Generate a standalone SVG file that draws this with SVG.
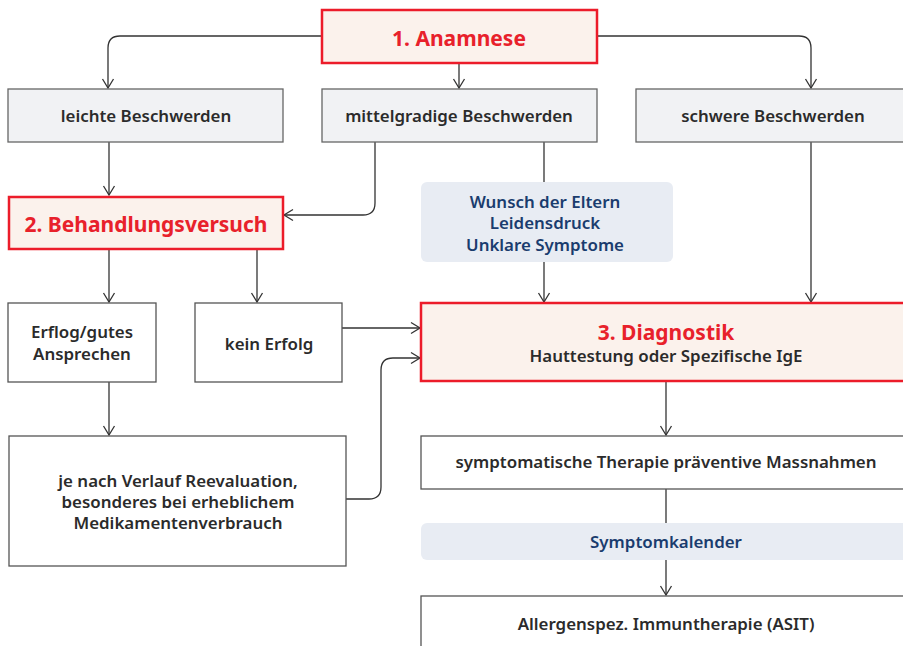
<svg xmlns="http://www.w3.org/2000/svg" width="903" height="646" viewBox="0 0 903 646">
<defs>
<marker id="arr" markerUnits="userSpaceOnUse" markerWidth="14" markerHeight="14" refX="10" refY="7" orient="auto">
<path d="M1,1.5 L10,7 L1,12.5" fill="none" stroke="#333" stroke-width="1.3"/>
</marker>
<style>
.t{font-family:"Noto Sans","Open Sans","Liberation Sans",sans-serif;font-weight:600;font-size:16.9px;fill:#2b2b2b;text-anchor:middle}
.h{font-family:"Noto Sans","Open Sans","Liberation Sans",sans-serif;font-weight:700;font-size:21px;fill:#e8212b;text-anchor:middle}
.b{font-family:"Noto Sans","Open Sans","Liberation Sans",sans-serif;font-weight:600;font-size:16.9px;fill:#1a3c6e;text-anchor:middle}
.red{fill:#fbf2ec;stroke:#ec1c2a;stroke-width:2.5}
.gray{fill:#f1f2f4;stroke:#666;stroke-width:1.3}
.white{fill:#fff;stroke:#555;stroke-width:1.3}
.blue{fill:#e8ecf3;stroke:none}
.c{fill:none;stroke:#333;stroke-width:1.3;marker-end:url(#arr)}
.cn{fill:none;stroke:#333;stroke-width:1.3}
</style>
</defs>
<rect width="903" height="646" fill="#fff"/>
<g id="connectors">
<path class="c" d="M322,36 H120 Q108,36 108,48 V88"/>
<path class="c" d="M459,63 V88"/>
<path class="c" d="M597,36 H799 Q811,36 811,48 V88"/>
<path class="c" d="M109,142 V195"/>
<path class="c" d="M375,142 V203 Q375,215 363,215 H284"/>
<path class="cn" d="M544,142 V182"/>
<path class="c" d="M544,262 V302"/>
<path class="c" d="M811,142 V302"/>
<path class="c" d="M109,249 V302"/>
<path class="c" d="M257,249 V302"/>
<path class="c" d="M342,328 H420"/>
<path class="c" d="M346,499 H369 Q381,499 381,487 V370 Q381,358 393,358 H420"/>
<path class="c" d="M109,382 V435"/>
<path class="c" d="M666,381 V435"/>
<path class="cn" d="M666,489 V523"/>
<path class="c" d="M666,560 V595"/>
</g>
<g id="anamnese">
<rect class="red" x="322" y="10" width="275" height="53"/>
<text class="h" x="459" y="46">1. Anamnese</text>
</g>
<g id="leichte">
<rect class="gray" x="8" y="89" width="275" height="53"/>
<text class="t" x="146" y="122">leichte Beschwerden</text>
</g>
<g id="mittel">
<rect class="gray" x="322" y="89" width="275" height="53"/>
<text class="t" x="459" y="122">mittelgradige Beschwerden</text>
</g>
<g id="schwere">
<rect class="gray" x="636" y="89" width="275" height="53"/>
<text class="t" x="773" y="122">schwere Beschwerden</text>
</g>
<g id="behandlung">
<rect class="red" x="9" y="197" width="274" height="52"/>
<text class="h" x="146" y="232">2. Behandlungsversuch</text>
</g>
<g id="wunsch">
<rect class="blue" x="421" y="182" width="252" height="80" rx="6"/>
<text class="b" x="545" y="208">Wunsch der Eltern</text>
<text class="b" x="545" y="229">Leidensdruck</text>
<text class="b" x="545" y="251">Unklare Symptome</text>
</g>
<g id="erfolg">
<rect class="white" x="8" y="303" width="148" height="79"/>
<text class="t" x="82" y="338">Erflog/gutes</text>
<text class="t" x="82" y="360">Ansprechen</text>
</g>
<g id="keinerfolg">
<rect class="white" x="195" y="303" width="147" height="79"/>
<text class="t" x="269" y="350">kein Erfolg</text>
</g>
<g id="diagnostik">
<rect class="red" x="421" y="303" width="490" height="78"/>
<text class="h" x="666" y="340">3. Diagnostik</text>
<text class="t" x="666" y="362">Hauttestung oder Spezifische IgE</text>
</g>
<g id="reevaluation">
<rect class="white" x="9" y="436" width="337" height="130"/>
<text class="t" x="178" y="487">je nach Verlauf Reevaluation,</text>
<text class="t" x="178" y="508">besonderes bei erheblichem</text>
<text class="t" x="178" y="529">Medikamentenverbrauch</text>
</g>
<g id="symptomatisch">
<rect class="white" x="421" y="436" width="490" height="53"/>
<text class="t" x="666" y="468">symptomatische Therapie präventive Massnahmen</text>
</g>
<g id="kalender">
<rect class="blue" x="421" y="523" width="490" height="37" rx="6"/>
<text class="b" x="666" y="548">Symptomkalender</text>
</g>
<g id="asit">
<rect class="white" x="421" y="596" width="490" height="60"/>
<text class="t" x="666" y="630">Allergenspez. Immuntherapie (ASIT)</text>
</g>
</svg>
